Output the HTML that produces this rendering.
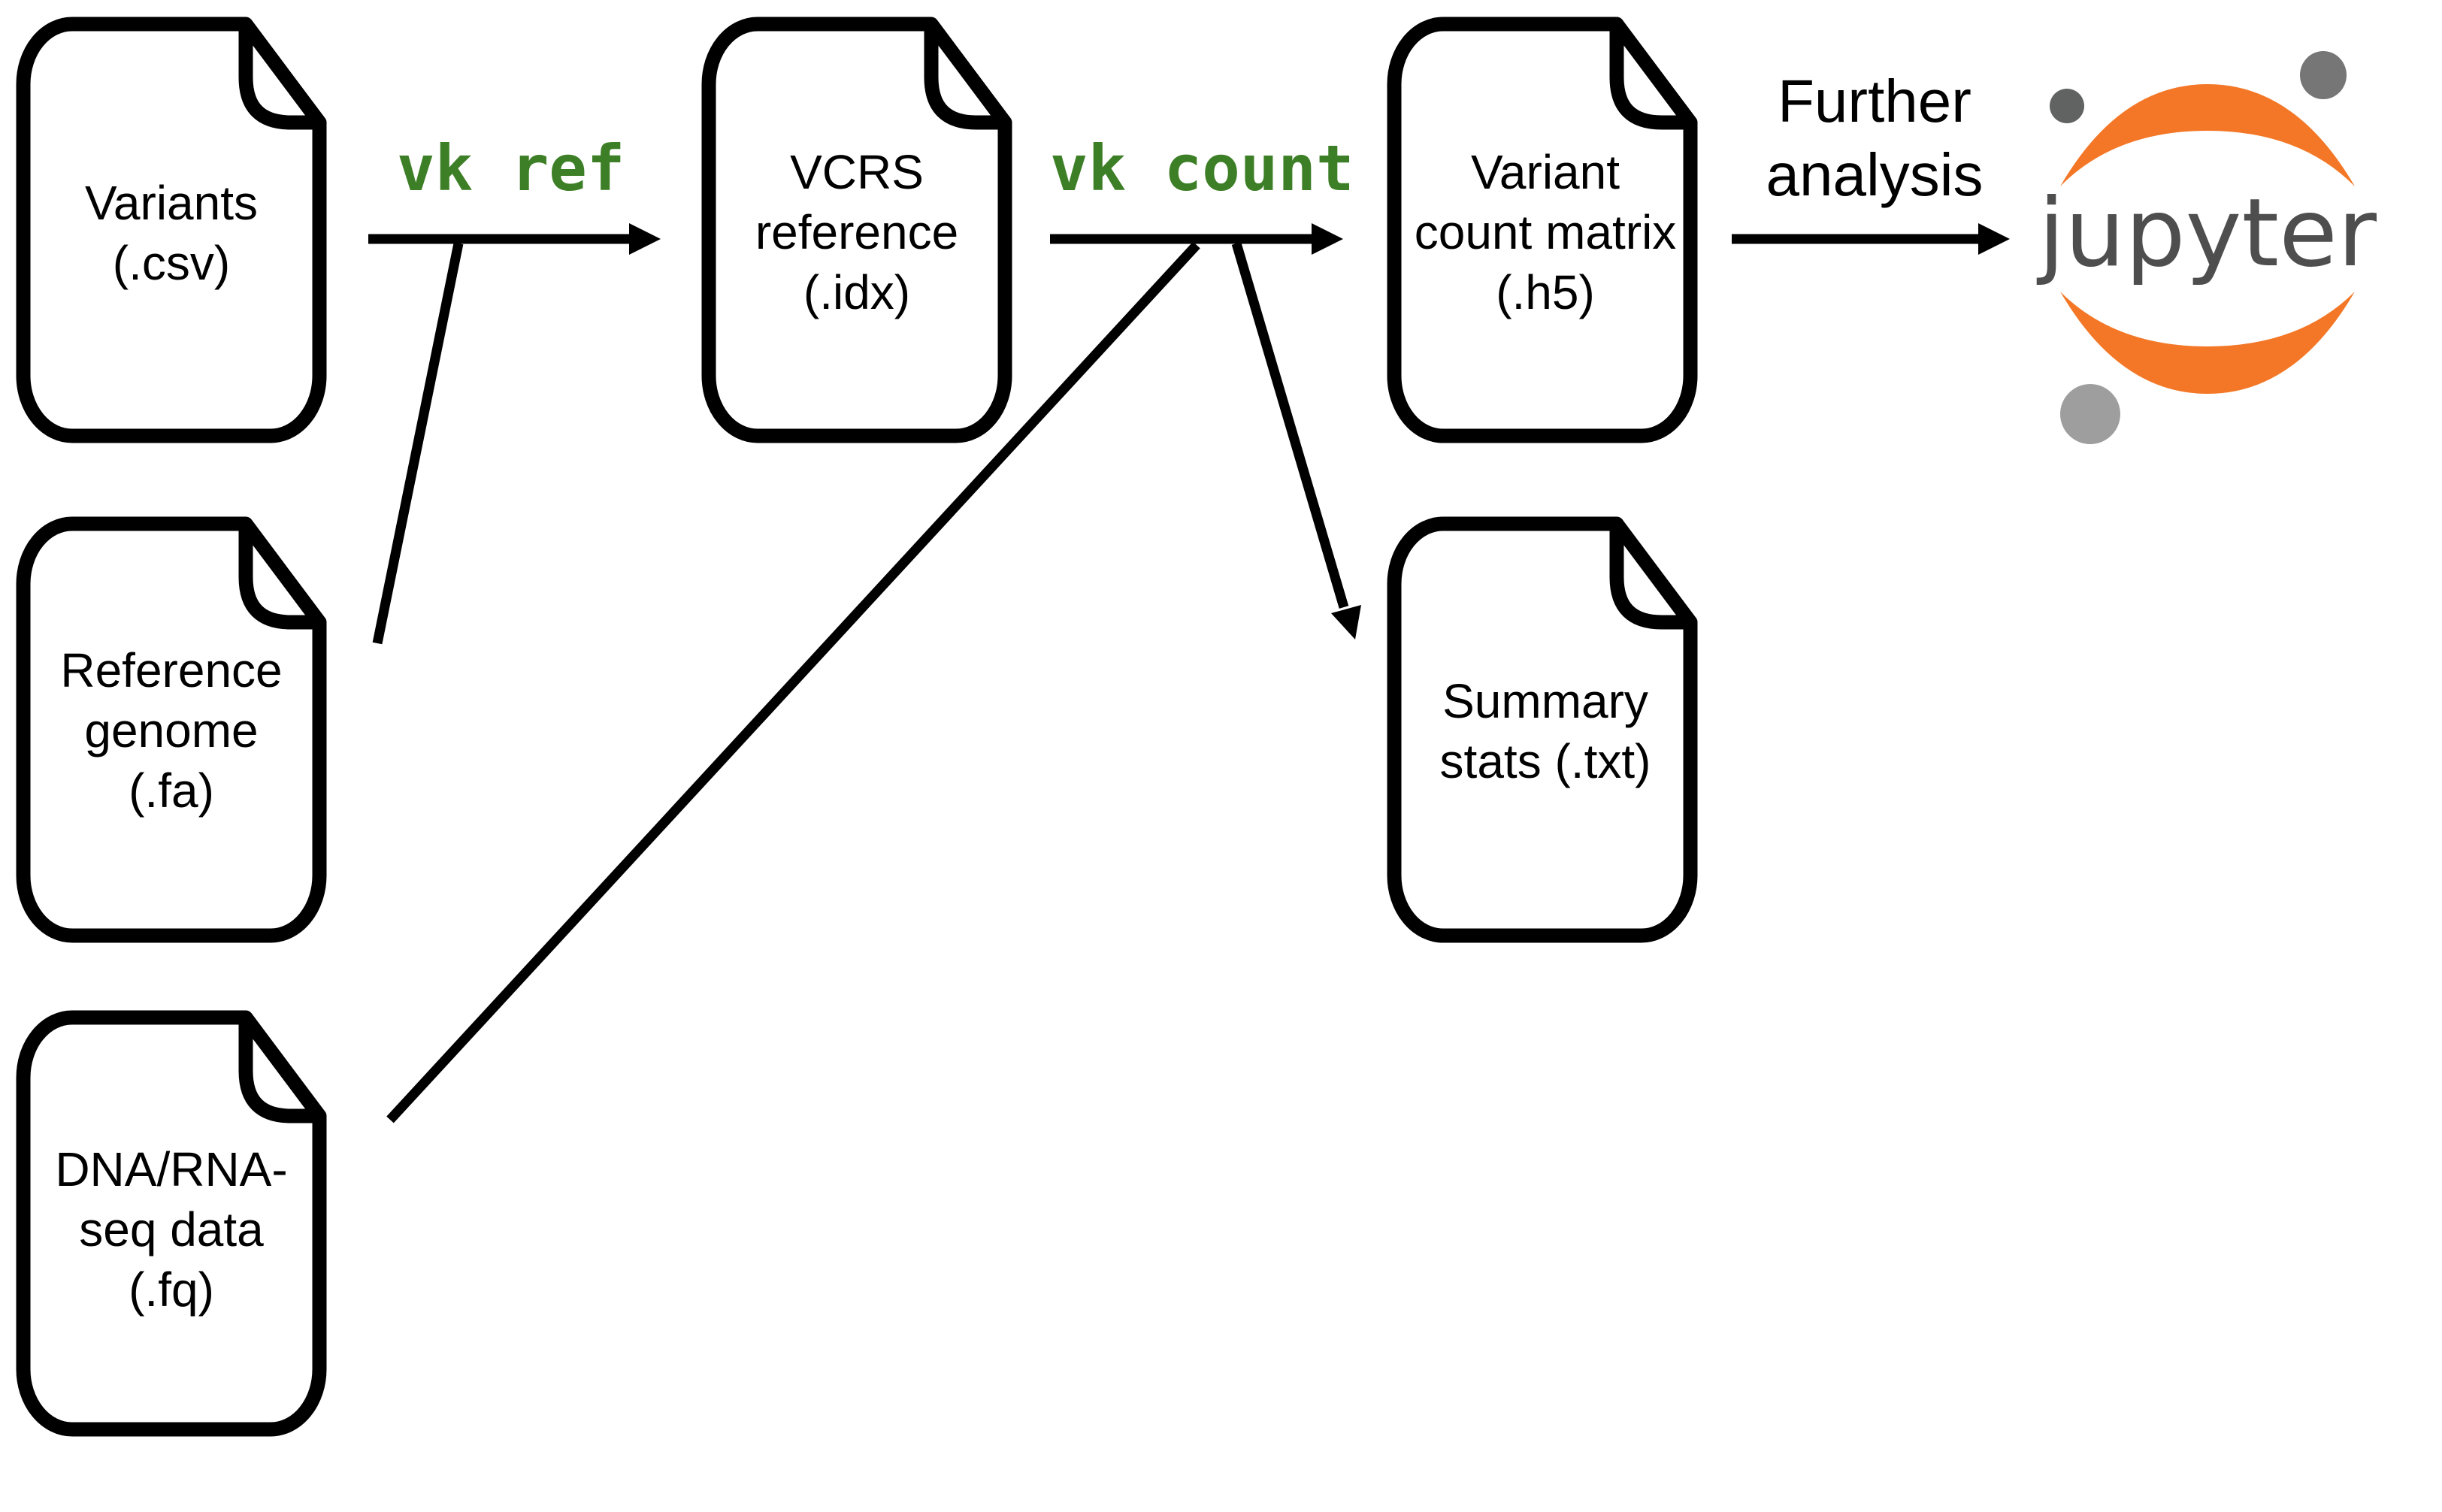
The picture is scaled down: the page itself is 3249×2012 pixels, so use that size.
<!DOCTYPE html>
<html><head><meta charset="utf-8"><style>
html,body{margin:0;padding:0;background:#fff;}
svg{display:block;}
.t{font-family:"Liberation Sans",Arial,sans-serif;font-size:64px;fill:#000;text-anchor:middle;}
.g{font-family:"DejaVu Sans Mono","Liberation Mono",monospace;font-weight:bold;font-size:84px;fill:#3d7f26;}
</style></head><body>
<svg width="3249" height="2012" viewBox="0 0 3249 2012" xmlns="http://www.w3.org/2000/svg">
<defs>
<g id="doc" fill="none" stroke="#000" stroke-width="19" stroke-linejoin="round">
<path d="M74 9 L305 9 L403 140 L403 477 A65 80 0 0 1 338 557 L74 557 A65 80 0 0 1 9 477 L9 89 A65 80 0 0 1 74 9 Z" fill="#fff"/>
<path d="M305 9 L305 80 Q305 140 365 140 L403 140"/>
</g>
</defs>
<use href="#doc" x="22" y="23"/>
<use href="#doc" x="22" y="688"/>
<use href="#doc" x="22" y="1345"/>
<use href="#doc" x="934" y="23"/>
<use href="#doc" x="1846" y="23"/>
<use href="#doc" x="1846" y="688"/>

<text class="t" x="228" y="292">Variants</text>
<text class="t" x="228" y="372">(.csv)</text>
<text class="t" x="228" y="914">Reference</text>
<text class="t" x="228" y="994">genome</text>
<text class="t" x="228" y="1074">(.fa)</text>
<text class="t" x="228" y="1578">DNA/RNA-</text>
<text class="t" x="228" y="1658">seq data</text>
<text class="t" x="228" y="1738">(.fq)</text>
<text class="t" x="1140" y="251">VCRS</text>
<text class="t" x="1140" y="331">reference</text>
<text class="t" x="1140" y="411">(.idx)</text>
<text class="t" x="2056" y="251">Variant</text>
<text class="t" x="2056" y="331">count matrix</text>
<text class="t" x="2056" y="411">(.h5)</text>
<text class="t" x="2056" y="955">Summary</text>
<text class="t" x="2056" y="1035">stats (.txt)</text>

<text class="g" x="528" y="253">vk ref</text>
<text class="g" x="1397" y="253">vk count</text>
<text class="t" x="2494" y="162" style="font-size:80px">Further</text>
<text class="t" x="2494" y="260" style="font-size:80px">analysis</text>

<g stroke="#000" stroke-width="13" fill="none">
<line x1="490" y1="318" x2="845" y2="318"/>
<line x1="610" y1="324" x2="502" y2="856"/>
<line x1="1397" y1="318" x2="1750" y2="318"/>
<line x1="1592" y1="326" x2="519" y2="1490"/>
<line x1="1645" y1="324" x2="1788" y2="808"/>
<line x1="2304" y1="318" x2="2635" y2="318"/>
</g>
<g fill="#000">
<polygon points="837,297 879,318 837,339"/>
<polygon points="1745,297 1787,318 1745,339"/>
<polygon points="2632,297 2674,318 2632,339"/>
<polygon points="1771,816 1811,805 1803,851"/>
</g>

<!-- jupyter logo -->
<g>
<path d="M2741 248 Q2820 112 2937 112 Q3054 112 3133 248 Q3060 174 2937 174 Q2814 174 2741 248 Z" fill="#f37726"/>
<path d="M2741 388 Q2820 524 2937 524 Q3054 524 3133 388 Q3060 461 2937 461 Q2814 461 2741 388 Z" fill="#f37726"/>
<ellipse cx="2750" cy="141" rx="23" ry="23" fill="#616262"/>
<ellipse cx="3091" cy="100" rx="31" ry="32" fill="#767677"/>
<ellipse cx="2781" cy="551" rx="40" ry="40" fill="#9e9e9e"/>
<text x="2937" y="353" text-anchor="middle" textLength="450" lengthAdjust="spacingAndGlyphs" style="font-family:'DejaVu Sans','Liberation Sans',sans-serif;font-size:125px;fill:#4e4e4e">jupyter</text>
</g>
</svg>
</body></html>
